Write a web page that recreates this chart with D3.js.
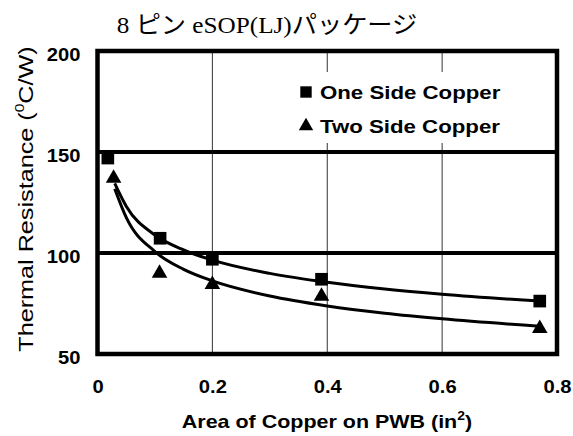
<!DOCTYPE html>
<html>
<head>
<meta charset="utf-8">
<script src="https://cdn.jsdelivr.net/npm/d3@7"></script>
<style>
  body { margin: 0; background: #fff; }
  svg { display: block; }
</style>
</head>
<body>
<svg width="573" height="436"></svg>
<script>
//  Chart data
const xTicks = [0, 0.2, 0.4, 0.6, 0.8];
const yTicks = [50, 100, 150, 200];
const xGrid = [0.2, 0.4, 0.6];
const yGrid = [100, 150];

const seriesNames = ['One Side Copper', 'Two Side Copper'];

const oneSideX = [0.018, 0.109, 0.2, 0.39, 0.77];
const oneSideY = [147, 107.3, 96.9, 87, 76.2];
const twoSideX = [0.028, 0.108, 0.2, 0.39, 0.77];
const twoSideY = [137, 90, 84.4, 78.6, 62.6];

//  Trend curves
const trendX = [0.03, 0.05, 0.1, 0.15, 0.2, 0.3, 0.4, 0.5, 0.6, 0.77];
const oneTrendY = [134.5, 123.2, 108.9, 101.5, 96.5, 89.9, 85.5, 82.2, 79.6, 76.2];
const twoTrendY = [131.8, 117.6, 100.7, 91.9, 86.2, 78.7, 73.8, 70.2, 67.4, 63.7];


const svg = d3.select('svg');
const plot = { left: 97.5, right: 557, top: 51, bottom: 354 };

const xScale = d3.scaleLinear().domain([0, 0.8]).range([plot.left, plot.right]);
const yScale = d3.scaleLinear().domain([50, 200]).range([plot.bottom, plot.top]);

const sans = 'Arial, "Liberation Sans", sans-serif';

//  widen text a little, the original font runs wider than Arial
function stretch(sel, k) {
    sel.each(function() {
        const w = this.getComputedTextLength();
        this.setAttribute('textLength', w * k);
        this.setAttribute('lengthAdjust', 'spacingAndGlyphs');
    });
}

//======================================
//  Title
//======================================
const title = svg.append('text')
    .attr('x', 267)
    .attr('y', 33)
    .attr('text-anchor', 'middle')
    .style('font-family', '"Liberation Serif", "Times New Roman", "Noto Sans CJK JP", serif')
    .style('font-size', '24px')
    .text('8 ピン eSOP(LJ)パッケージ');
stretch(title, 1.05);

//======================================
//  Grid
//======================================
svg.append('g')
    .selectAll('line')
    .data(xGrid)
    .join('line')
    .attr('x1', d => xScale(d))
    .attr('x2', d => xScale(d))
    .attr('y1', plot.top)
    .attr('y2', plot.bottom)
    .attr('stroke', '#333')
    .attr('stroke-width', 1);

svg.append('g')
    .selectAll('line')
    .data(yGrid)
    .join('line')
    .attr('x1', plot.left)
    .attr('x2', plot.right)
    .attr('y1', d => yScale(d))
    .attr('y2', d => yScale(d))
    .attr('stroke', '#000')
    .attr('stroke-width', 4);

//======================================
//  Legend (white box hides the grid)
//======================================
const legend = svg.append('g');
legend.append('rect')
    .attr('x', 292)
    .attr('y', 72)
    .attr('width', 262)
    .attr('height', 71)
    .attr('fill', '#fff');

//======================================
//  Frame
//======================================
svg.append('rect')
    .attr('x', plot.left)
    .attr('y', plot.top)
    .attr('width', plot.right - plot.left)
    .attr('height', plot.bottom - plot.top)
    .attr('fill', 'none')
    .attr('stroke', '#000')
    .attr('stroke-width', 4.5);

//======================================
//  Axes
//======================================
const xAxis = svg.append('g')
    .attr('transform', `translate(0, ${plot.bottom})`)
    .call(d3.axisBottom(xScale).tickValues(xTicks).tickSize(0).tickPadding(0)
        .tickFormat(d => d === 0 ? '0' : d3.format('.1f')(d)));
xAxis.select('.domain').remove();
xAxis.selectAll('text')
    .attr('y', 39)
    .attr('dy', null)
    .attr('fill', '#000')
    .style('font-family', sans)
    .style('font-weight', 'bold')
    .style('font-size', '18px');
stretch(xAxis.selectAll('text'), 1.12);

const yAxis = svg.append('g')
    .attr('transform', `translate(${plot.left}, 0)`)
    .call(d3.axisLeft(yScale).tickValues(yTicks).tickSize(0).tickPadding(0));
yAxis.select('.domain').remove();
yAxis.selectAll('text')
    .attr('x', -17)
    .attr('dy', '0.52em')
    .attr('fill', '#000')
    .style('font-family', sans)
    .style('font-weight', 'bold')
    .style('font-size', '18px');
stretch(yAxis.selectAll('text'), 1.12);

//  Axis titles
const xLabel = svg.append('text')
    .attr('x', 327)
    .attr('y', 428)
    .attr('text-anchor', 'middle')
    .style('font-family', sans)
    .style('font-weight', 'bold')
    .style('font-size', '18.5px');
xLabel.append('tspan').text('Area of Copper on PWB (in');
xLabel.append('tspan').attr('dy', -8).style('font-size', '12px').text('2');
xLabel.append('tspan').attr('dy', 8).text(')');
stretch(xLabel, 1.16);

const yLabel = svg.append('text')
    .attr('transform', 'translate(33, 199) rotate(-90)')
    .attr('text-anchor', 'middle')
    .style('font-family', sans)
    .style('font-size', '21px');
yLabel.append('tspan').text('Thermal Resistance (');
yLabel.append('tspan').attr('dy', -9).style('font-size', '13px').text('0');
yLabel.append('tspan').attr('dy', 9).text('C/W)');
stretch(yLabel, 1.2);

//======================================
//  Trend curves
//======================================
const line = d3.line()
    .x(d => xScale(d[0]))
    .y(d => yScale(d[1]))
    .curve(d3.curveMonotoneX);

[oneTrendY, twoTrendY].forEach(vals => {
    svg.append('path')
        .attr('d', line(trendX.map((x, i) => [x, vals[i]])))
        .attr('fill', 'none')
        .attr('stroke', '#000')
        .attr('stroke-width', 3);
});

//======================================
//  Points
//======================================
const square = d3.symbol().type(d3.symbolSquare).size(160);
const triangle = d3.symbol().type(d3.symbolTriangle).size(105);

svg.append('g')
    .selectAll('path')
    .data(oneSideX.map((x, i) => [x, oneSideY[i]]))
    .join('path')
    .attr('d', square)
    .attr('transform', d => `translate(${xScale(d[0])}, ${yScale(d[1])})`)
    .attr('fill', '#000');

svg.append('g')
    .selectAll('path')
    .data(twoSideX.map((x, i) => [x, twoSideY[i]]))
    .join('path')
    .attr('d', triangle)
    .attr('transform', d => `translate(${xScale(d[0])}, ${yScale(d[1])})`)
    .attr('fill', '#000');

//======================================
//  Legend entries
//======================================
const legendRows = [
    { name: seriesNames[0], symbol: d3.symbol().type(d3.symbolSquare).size(130), y: 92 },
    { name: seriesNames[1], symbol: d3.symbol().type(d3.symbolTriangle).size(90), y: 126 }
];
legendRows.forEach(row => {
    legend.append('path')
        .attr('d', row.symbol)
        .attr('transform', `translate(306, ${row.y})`)
        .attr('fill', '#000');
    const t = legend.append('text')
        .attr('x', 320)
        .attr('y', row.y + 6.5)
        .style('font-family', sans)
        .style('font-weight', 'bold')
        .style('font-size', '19px')
        .text(row.name);
    stretch(t, 1.17);
});
</script>
</body>
</html>
